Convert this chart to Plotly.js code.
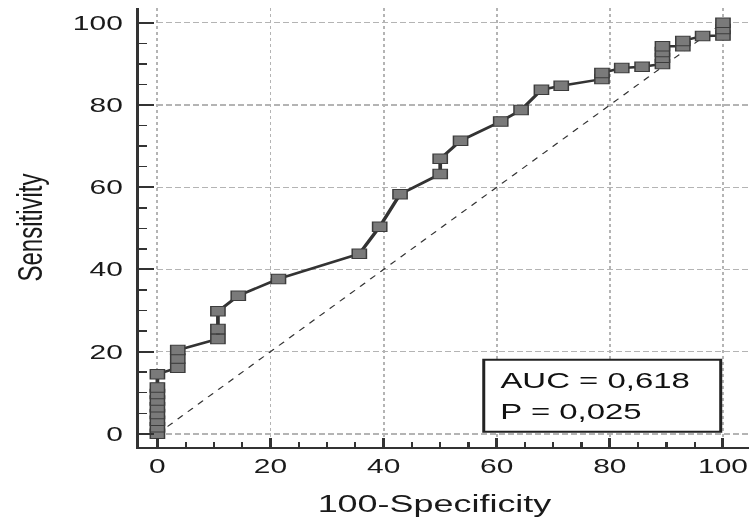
<!DOCTYPE html>
<html>
<head>
<meta charset="utf-8">
<script src="https://cdn.plot.ly/plotly-3.0.1.min.js"></script>
<style>
  html, body { margin: 0; padding: 0; background: #ffffff; overflow: hidden; }
  #chart { width: 500px; height: 522px; transform: scaleX(1.498); transform-origin: 0 0; }
  #chart svg.main-svg { overflow: visible !important; }
</style>
</head>
<body>
<div id="chart"></div>
<script>
// ROC curve points (100-Specificity, Sensitivity)
const specCompl = [0, 0, 0, 0, 0, 0, 0, 0, 0,
  3.6, 3.6, 3.6,
  10.7, 10.7, 10.7,
  14.3, 21.4, 35.7, 39.3, 42.9,
  50, 50, 53.6, 60.7, 64.3, 67.9, 71.4,
  78.6, 78.6, 82.1, 85.7,
  89.3, 89.3, 89.3, 89.3,
  92.9, 92.9, 96.4,
  100, 100, 100];
const sensitivity = [0, 1.6, 3.2, 4.8, 6.5, 8.1, 9.7, 11.3, 14.5,
  16.1, 18.3, 20.4,
  23.1, 25.5, 29.8,
  33.6, 37.7, 43.8, 50.4, 58.3,
  63.2, 66.9, 71.3, 76.0, 78.8, 83.7, 84.7,
  86.3, 87.8, 89.0, 89.3,
  90.0, 91.5, 92.9, 94.3,
  94.3, 95.6, 96.8,
  96.9, 98.5, 100];
const diagX = [0, 100];
const diagY = [0, 100];
const tickVals = [0, 20, 40, 60, 80, 100];
const statLines = ["AUC = 0,618", "P = 0,025"];
const xTitle = "100-Specificity";
const yTitle = "Sensitivity";

const FONT = "Liberation Sans, Arial, sans-serif";

const traces = [
  {
    x: diagX, y: diagY, type: "scatter", mode: "lines",
    line: { color: "#333333", width: 1, dash: "5px,5px" },
    hoverinfo: "skip", showlegend: false
  },
  {
    x: specCompl, y: sensitivity, type: "scatter", mode: "lines+markers",
    line: { color: "#333333", width: 2.5 },
    marker: { symbol: "square", size: 9.5, color: "#7a7a7a", line: { color: "#3c3c3c", width: 1 } },
    showlegend: false
  }
];

const axisCommon = {
  tickvals: tickVals,
  ticktext: tickVals.map(String),
  ticks: "inside",
  tickcolor: "#333333",
  tickwidth: 2,
  showline: true,
  linecolor: "#333333",
  linewidth: 2,
  zeroline: false,
  showgrid: true,
  gridcolor: "#b4b4b4",
  gridwidth: 1.3,
  ticklabeloverflow: "allow",
  tickfont: { family: FONT, size: 20, color: "#1a1a1a" },
  minor: { dtick: 5, tick0: 0, ticks: "inside", ticklen: 5, tickwidth: 1.5, tickcolor: "#333333", showgrid: false }
};

const layout = {
  width: 500, height: 522,
  margin: { l: 93, r: 0, t: 8, b: 75 },
  paper_bgcolor: "#ffffff",
  plot_bgcolor: "#ffffff",
  showlegend: false,
  xaxis: Object.assign({}, axisCommon, {
    range: [-3.2, 104.6],
    ticklen: 9,
    griddash: "3px,3px"
  }),
  yaxis: Object.assign({}, axisCommon, {
    range: [-3.2, 103.6],
    ticklen: 10,
    griddash: "4px,2px",
    ticklabelstandoff: 5,
    title: { text: yTitle, font: { family: FONT, size: 24, color: "#1a1a1a" }, standoff: 13 }
  }),
  shapes: [
    {
      type: "rect", xref: "x", yref: "y",
      x0: 57.7, x1: 99.6, y0: 0.5, y1: 18,
      line: { color: "#222222", width: 2 },
      fillcolor: "#ffffff", layer: "above"
    }
  ],
  annotations: [
    {
      xref: "x", yref: "y", x: 60.2, y: 13.1, xanchor: "left", yanchor: "middle",
      text: statLines[0], showarrow: false,
      font: { family: FONT, size: 22, color: "#111111" }
    },
    {
      xref: "x", yref: "y", x: 60.2, y: 5.4, xanchor: "left", yanchor: "middle",
      text: statLines[1], showarrow: false,
      font: { family: FONT, size: 22, color: "#111111" }
    },
    {
      xref: "paper", yref: "paper", x: 0.483, y: -0.128, xanchor: "center", yanchor: "middle",
      text: xTitle, showarrow: false,
      font: { family: FONT, size: 24, color: "#1a1a1a" }
    }
  ]
};

Plotly.newPlot("chart", traces, layout, { displayModeBar: false, staticPlot: true });
</script>
</body>
</html>
